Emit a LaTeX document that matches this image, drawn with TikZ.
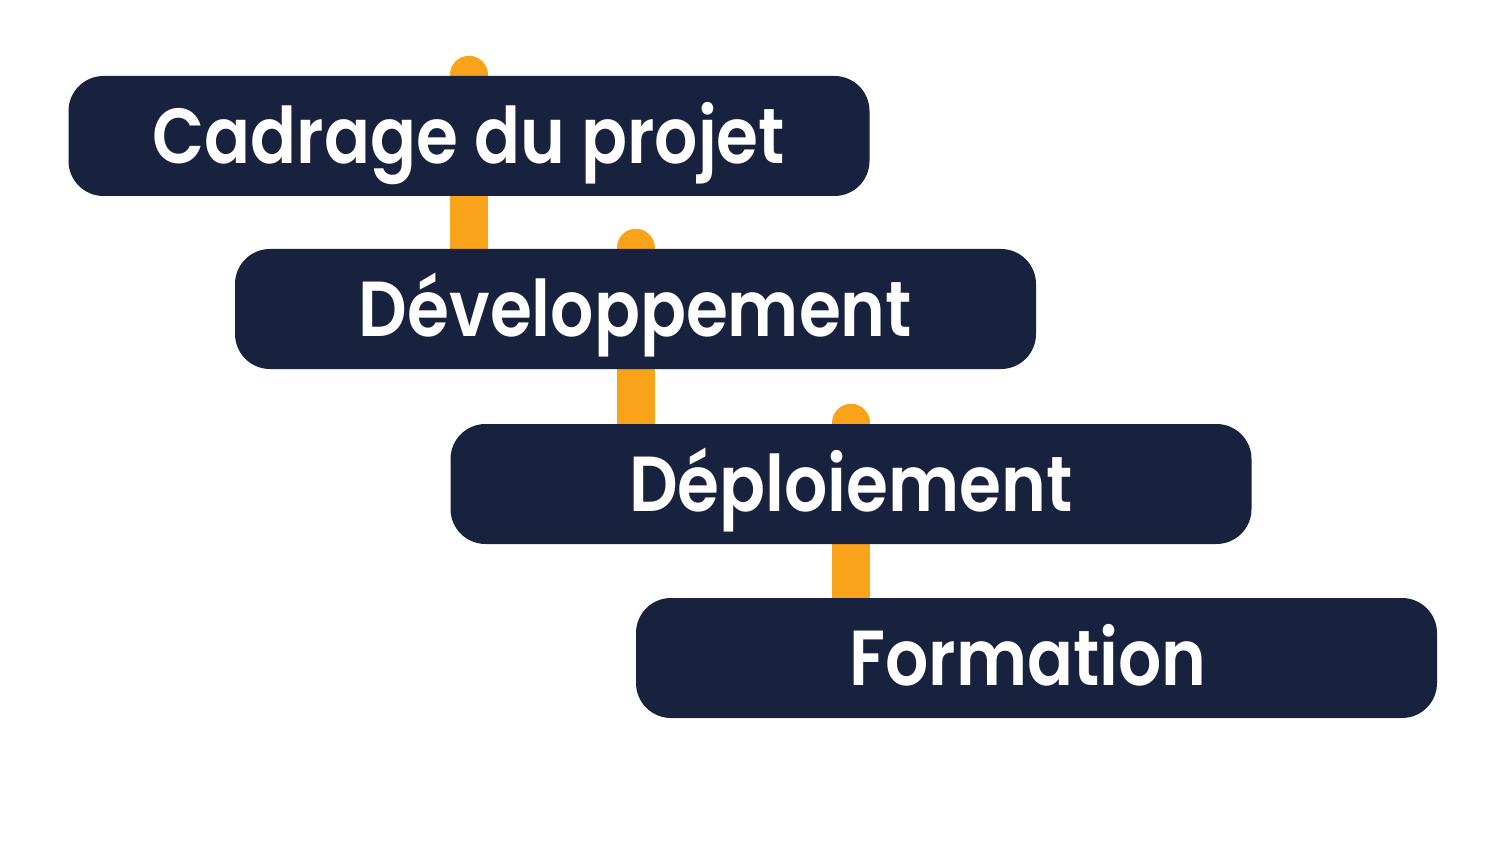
\documentclass[tikz,border=0pt]{standalone}
\usepackage{fontspec}
\setmainfont{Poppins}
\newfontfamily\lblfont{Poppins SemiBold}[FakeStretch=0.87]
\usetikzlibrary{backgrounds}
\definecolor{navy}{HTML}{18223F}
\definecolor{amber}{HTML}{F8A31A}
\tikzset{
  lbl/.style={text=white, font=\lblfont\fontsize{78}{80}\selectfont, text height=55pt, text depth=0pt, inner sep=0pt},
  stepbox/.style={lbl, fill=navy, draw=none, rounded corners=35pt, minimum width=801pt, minimum height=120pt},
  bar/.style={draw=amber, line width=38pt, line cap=round}
}
\begin{document}
\begin{tikzpicture}[x=1pt,y=-1pt]
\useasboundingbox (0,0) rectangle (1510,842);
\node[stepbox] (c1) at (469,136) {Cadrage du projet};
\node[stepbox] (c2) at (635.5,309) {Développement};
\node[stepbox] (c3) at (851,484) {Déploiement};
\node[stepbox] (c4) at (1036.5,658) {};
\node[lbl] (t4) at (1028,658) {Formation};
\begin{scope}[on background layer]
\draw[bar] ([yshift=1pt]c1.north) -- (c1.north |- c2.north);
\draw[bar] ([yshift=1pt]c2.north) -- (c2.north |- c3.north);
\draw[bar] ([yshift=1pt]c3.north) -- (c3.north |- c4.north);
\end{scope}
\end{tikzpicture}
\end{document}
